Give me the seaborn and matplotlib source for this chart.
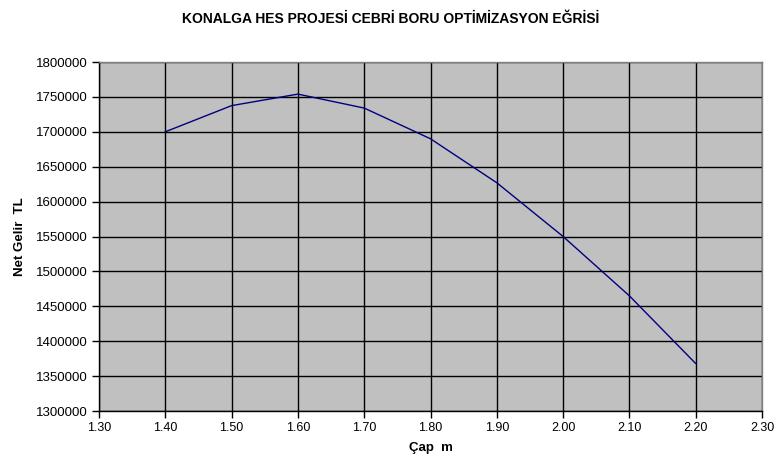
import matplotlib
matplotlib.use("Agg")
import matplotlib.pyplot as plt
import seaborn as sns
import pandas as pd
import numpy as np

cap_m = [1.40, 1.50, 1.60, 1.70, 1.80, 1.90, 2.00, 2.10, 2.20]
net_gelir = [1700000, 1737500, 1754000, 1734000, 1690000, 1627000, 1550000, 1465000, 1368000]
x_ticks = [1.30, 1.40, 1.50, 1.60, 1.70, 1.80, 1.90, 2.00, 2.10, 2.20, 2.30]
y_ticks = list(range(1300000, 1800001, 50000))

title = "KONALGA HES PROJESİ CEBRİ BORU OPTİMİZASYON EĞRİSİ"
xlabel = "Çap  m"
ylabel = "Net Gelir  TL"

sns.set_style("white")
plt.rcParams["font.family"] = ["Liberation Sans", "DejaVu Sans"]
plt.rcParams["text.color"] = "black"
plt.rcParams["axes.labelcolor"] = "black"
plt.rcParams["xtick.color"] = "black"
plt.rcParams["ytick.color"] = "black"

fig = plt.figure(figsize=(7.82, 4.67), dpi=100)
ax = fig.add_axes([99/782, 1-411/467, (762-99)/782, (411-62)/467])
ax.set_facecolor("#C0C0C0")

df = pd.DataFrame({"x": cap_m, "y": net_gelir})
sns.lineplot(data=df, x="x", y="y", ax=ax, color="#000080", linewidth=1.0)

ax.set_xlim(1.30, 2.30)
ax.set_ylim(1300000, 1800000)
ax.set_xticks(x_ticks)
ax.set_xticklabels([f"{v:.2f}" for v in x_ticks], fontsize=9)
ax.set_yticks(y_ticks)
ax.set_yticklabels([str(v) for v in y_ticks], fontsize=9.5)
ax.grid(True, color="black", linewidth=1.0)
ax.set_axisbelow(True)
ax.tick_params(axis="both", direction="out", length=5, width=1, color="black", labelcolor="black", pad=3, bottom=True, left=True)

for s in ["top", "right"]:
    ax.spines[s].set_color("#808080")
    ax.spines[s].set_linewidth(1)
for s in ["left", "bottom"]:
    ax.spines[s].set_color("black")
    ax.spines[s].set_linewidth(1)

ax.set_xlabel(xlabel, fontsize=9.5, fontweight="bold", labelpad=6, color="black")
ax.set_ylabel(ylabel, fontsize=9.5, fontweight="bold", labelpad=7, color="black")
fig.text(0.5, 1-19/467, title, ha="center", va="center", fontsize=10, fontweight="bold", color="black")

fig.savefig("out.png", dpi=100)
